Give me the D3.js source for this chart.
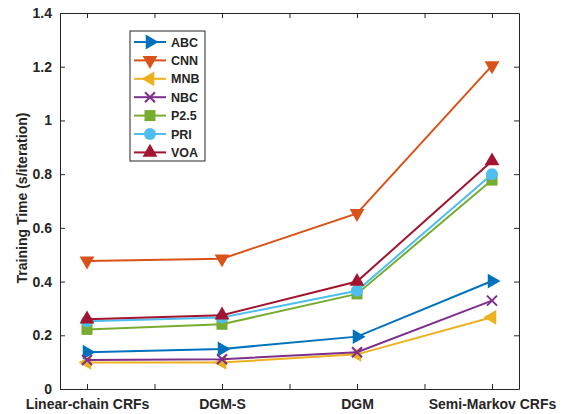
<!DOCTYPE html>
<html>
<head>
<meta charset="utf-8">
<script src="https://cdn.jsdelivr.net/npm/d3@7"></script>
<style>
  body { margin: 0; background: #fff; }
  text { font-family: "Liberation Sans", Arial, sans-serif; font-weight: bold; fill: #262626; }
</style>
</head>
<body>
<svg id="chart" width="566" height="414"></svg>
<script>
// categories along x
const categories = ["Linear-chain CRFs", "DGM-S", "DGM", "Semi-Markov CRFs"];
const seriesNames = ["ABC", "CNN", "MNB", "NBC", "P2.5", "PRI", "VOA"];

// training time (s/iteration)
const abc = [0.137, 0.149, 0.195, 0.402];
const cnn = [0.477, 0.485, 0.654, 1.204];
const mnb = [0.099, 0.099, 0.129, 0.267];
const nbc = [0.108, 0.111, 0.137, 0.329];
const p25 = [0.222, 0.241, 0.354, 0.778];
const pri = [0.252, 0.266, 0.366, 0.800];
const voa = [0.260, 0.275, 0.400, 0.849];

const yTicks = [0, 0.2, 0.4, 0.6, 0.8, 1, 1.2, 1.4];

const colors = ["#0072BD", "#D95319", "#EDB120", "#7E2F8E", "#77AC30", "#4DBEEE", "#A2142F"];
const markers = ["right", "down", "left", "x", "square", "circle", "up"];
const allValues = [abc, cnn, mnb, nbc, p25, pri, voa];

const series = seriesNames.map((name, i) => ({
    name: name, values: allValues[i], color: colors[i], marker: markers[i]
}));

const margin = { top: 13, right: 47, bottom: 25, left: 60 };
const width = 566 - margin.left - margin.right;
const height = 414 - margin.top - margin.bottom;

const svg = d3.select("#chart")
    .append("g")
    .attr("transform", `translate(${margin.left}, ${margin.top})`);

const xScale = d3.scaleLinear().domain([0.8, 4.2]).range([0, width]);
const yScale = d3.scaleLinear().domain([0, 1.4]).range([height, 0]);

const axisColor = "#262626";
const xTickVals = d3.range(1, 4.01, 0.5);

// x axis (bottom) with labels on integer positions
const xAxis = d3.axisBottom(xScale)
    .tickValues(xTickVals)
    .tickSizeInner(-5).tickSizeOuter(0)
    .tickPadding(10)
    .tickFormat(d => Number.isInteger(d) ? categories[d - 1] : "");
const xAxisTop = d3.axisTop(xScale)
    .tickValues(xTickVals)
    .tickSizeInner(-5).tickSizeOuter(0)
    .tickFormat("");
const yAxis = d3.axisLeft(yScale)
    .tickValues(yTicks)
    .tickSizeInner(-5).tickSizeOuter(0)
    .tickPadding(8)
    .tickFormat(d => d3.format("~g")(d));
const yAxisRight = d3.axisRight(yScale)
    .tickValues(yTicks)
    .tickSizeInner(-5).tickSizeOuter(0)
    .tickFormat("");

function styleAxis(g) {
    g.select(".domain").attr("stroke", axisColor).attr("stroke-width", 1);
    g.selectAll(".tick line").attr("stroke", axisColor).attr("stroke-width", 1);
    g.selectAll(".tick text").style("font-size", "14px").attr("fill", axisColor);
}

svg.append("g").attr("transform", `translate(0, ${height})`).call(xAxis).call(styleAxis);
svg.append("g").call(xAxisTop).call(styleAxis);
svg.append("g").call(yAxis).call(styleAxis);
svg.append("g").attr("transform", `translate(${width}, 0)`).call(yAxisRight).call(styleAxis);

// y axis label
svg.append("text")
    .attr("transform", "rotate(-90)")
    .attr("x", -height / 2 + 3)
    .attr("y", -33)
    .style("text-anchor", "middle")
    .style("font-size", "14px")
    .text("Training Time (s/iteration)");

// marker shapes
const triSize = 95;
function drawMarker(g, type, color) {
    if (type === "circle") {
        g.append("circle").attr("r", 6).attr("fill", color);
    } else if (type === "square") {
        g.append("rect").attr("x", -5.5).attr("y", -5.5).attr("width", 11).attr("height", 11).attr("fill", color);
    } else if (type === "x") {
        g.append("path").attr("d", "M-5,-5L5,5M-5,5L5,-5")
            .attr("stroke", color).attr("stroke-width", 2).attr("fill", "none");
    } else {
        const rot = { up: 0, right: 90, down: 180, left: 270 }[type];
        g.append("path")
            .attr("d", d3.symbol(d3.symbolTriangle, triSize)())
            .attr("transform", `rotate(${rot})`)
            .attr("fill", color);
    }
}

const line = d3.line()
    .x((d, i) => xScale(i + 1))
    .y(d => yScale(d));

series.forEach(s => {
    svg.append("path")
        .datum(s.values)
        .attr("fill", "none")
        .attr("stroke", s.color)
        .attr("stroke-width", 2)
        .attr("d", line);

    s.values.forEach((v, i) => {
        const g = svg.append("g")
            .attr("transform", `translate(${xScale(i + 1)}, ${yScale(v)})`);
        drawMarker(g, s.marker, s.color);
    });
});

// legend
const legend = svg.append("g")
    .attr("transform", `translate(${130 - margin.left}, ${31 - margin.top})`);

legend.append("rect")
    .attr("width", 75)
    .attr("height", 130)
    .attr("fill", "#fff")
    .attr("stroke", axisColor)
    .attr("stroke-width", 1);

series.forEach((s, i) => {
    const y = 11 + i * 18.4;
    legend.append("line")
        .attr("x1", 4).attr("x2", 36)
        .attr("y1", y).attr("y2", y)
        .attr("stroke", s.color).attr("stroke-width", 2);
    const g = legend.append("g").attr("transform", `translate(20, ${y})`);
    drawMarker(g, s.marker, s.color);
    legend.append("text")
        .attr("x", 41)
        .attr("y", y + 4.5)
        .style("font-size", "12.5px")
        .text(s.name);
});
</script>
</body>
</html>
